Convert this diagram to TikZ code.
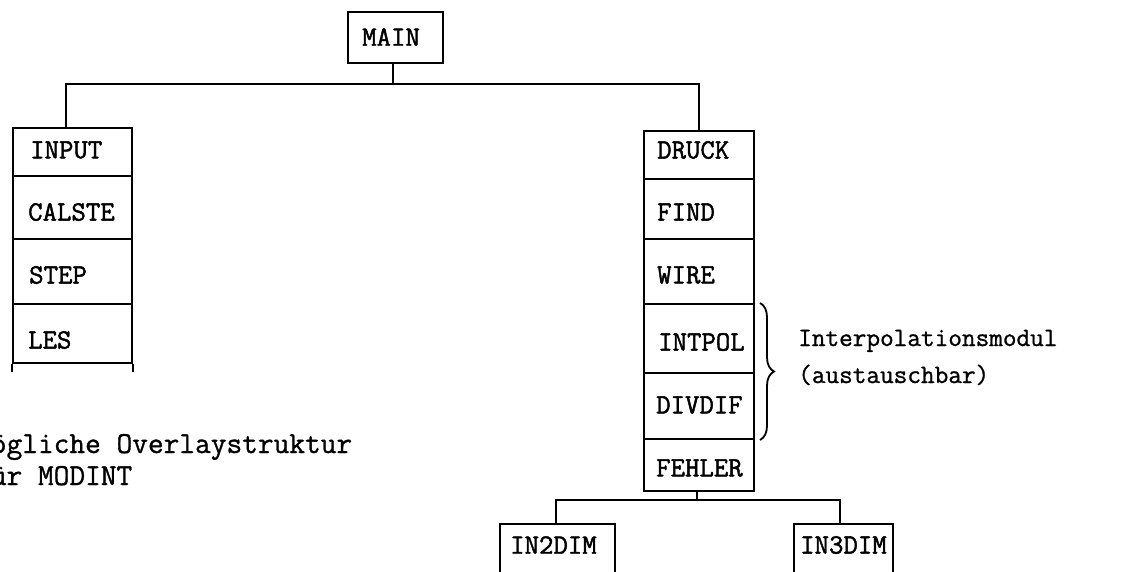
\documentclass[tikz,border=0pt]{standalone}
\usepackage{fontspec}
\newfontfamily\typewr{Latin Modern Mono}[FakeBold=1.6]
\newfontfamily\typewrlight{Latin Modern Mono}[FakeBold=1.0]
\usetikzlibrary{decorations.pathreplacing,calc}
\begin{document}
\begin{tikzpicture}[x=1pt,y=1pt,
  box/.style={draw, line width=2pt, inner sep=0pt, anchor=north west},
  lab/.style={font=\fontsize{28}{30}\selectfont\typewr, inner sep=0pt, anchor=west},
  conn/.style={line width=2pt},
  note/.style={font=\fontsize{26.5}{30}\selectfont\typewrlight, inner sep=0pt, anchor=base west},
  bignote/.style={font=\fontsize{30.5}{32}\selectfont\typewrlight, inner sep=0pt, anchor=base west}]
\useasboundingbox (0,0) rectangle (1137,-572);
\clip (0,0) rectangle (1137,-572);
% MAIN
\node[box, minimum width=95pt, minimum height=51pt] (main) at (347,-11) {};
\node[lab] (mainl) at (362,-37) {MAIN};
% left stack
\node[box, minimum width=119pt, minimum height=48pt] (input) at (12,-127) {};
\node[box, minimum width=119pt, minimum height=63pt] (calste) at (12,-175) {};
\node[box, minimum width=119pt, minimum height=65pt] (step) at (12,-238) {};
\node[box, minimum width=119pt, minimum height=59pt] (les) at (12,-303) {};
\node[lab] (inputl) at (30,-150) {INPUT};
\node[lab] (calstel) at (28,-212) {CALSTE};
\node[lab] (stepl) at (29,-275) {STEP};
\node[lab] (lesl) at (28,-340) {LES};
\draw[conn] (les.south west) -- ++(0,-8);
\draw[conn] (les.south east) -- ++(0,-8);
% right stack
\node[box, minimum width=110pt, minimum height=48pt] (druck) at (643,-130) {};
\node[box, minimum width=110pt, minimum height=60pt] (find) at (643,-178) {};
\node[box, minimum width=110pt, minimum height=65pt] (wire) at (643,-238) {};
\node[box, minimum width=110pt, minimum height=69pt] (intpol) at (643,-303) {};
\node[box, minimum width=110pt, minimum height=66pt] (divdif) at (643,-372) {};
\node[box, minimum width=110pt, minimum height=52pt] (fehler) at (643,-438) {};
\node[lab] (druckl) at (657,-150) {DRUCK};
\node[lab] (findl) at (657,-212) {FIND};
\node[lab] (wirel) at (657,-275) {WIRE};
\node[lab] (intpoll) at (658,-342) {INTPOL};
\node[lab] (divdifl) at (656,-405) {DIVDIF};
\node[lab] (fehlerl) at (656,-468) {FEHLER};
% bottom leaves
\node[box, minimum width=115pt, minimum height=80pt] (in2) at (499,-523) {};
\node[box, minimum width=99pt, minimum height=80pt] (in3) at (793,-523) {};
\node[lab] (in2l) at (510,-545) {IN2DIM};
\node[lab] (in3l) at (800,-545) {IN3DIM};
% connectors
\coordinate (lj) at (66,-84);
\coordinate (rj) at (699,-84);
\draw[conn] (lj |- input.north) -- (lj) -- (rj) -- (rj |- druck.north);
\draw[conn] ([xshift=-3pt]main.south) -- ([xshift=-3pt]main.south |- lj);
\coordinate (bl) at (556,-500);
\coordinate (br) at (840,-500);
\draw[conn] (bl |- in2.north) -- (bl) -- (br) -- (br |- in3.north);
\draw[conn] ([xshift=-2pt]fehler.south) -- ([xshift=-2pt]fehler.south |- bl);
% brace
\draw[line width=1.8pt, decorate, decoration={brace, amplitude=14pt}]
  ([xshift=5pt]intpol.north east) -- ([xshift=5pt]divdif.south east);
% notes
\node[note] (n1) at (798,-346) {Interpolationsmodul};
\node[note] (n2) at (798,-383) {(austauschbar)};
\node[bignote] (o1) at (-25,-453) {Mögliche Overlaystruktur};
\node[bignote] (o2) at (-25,-485) {für MODINT};
\end{tikzpicture}
\end{document}
